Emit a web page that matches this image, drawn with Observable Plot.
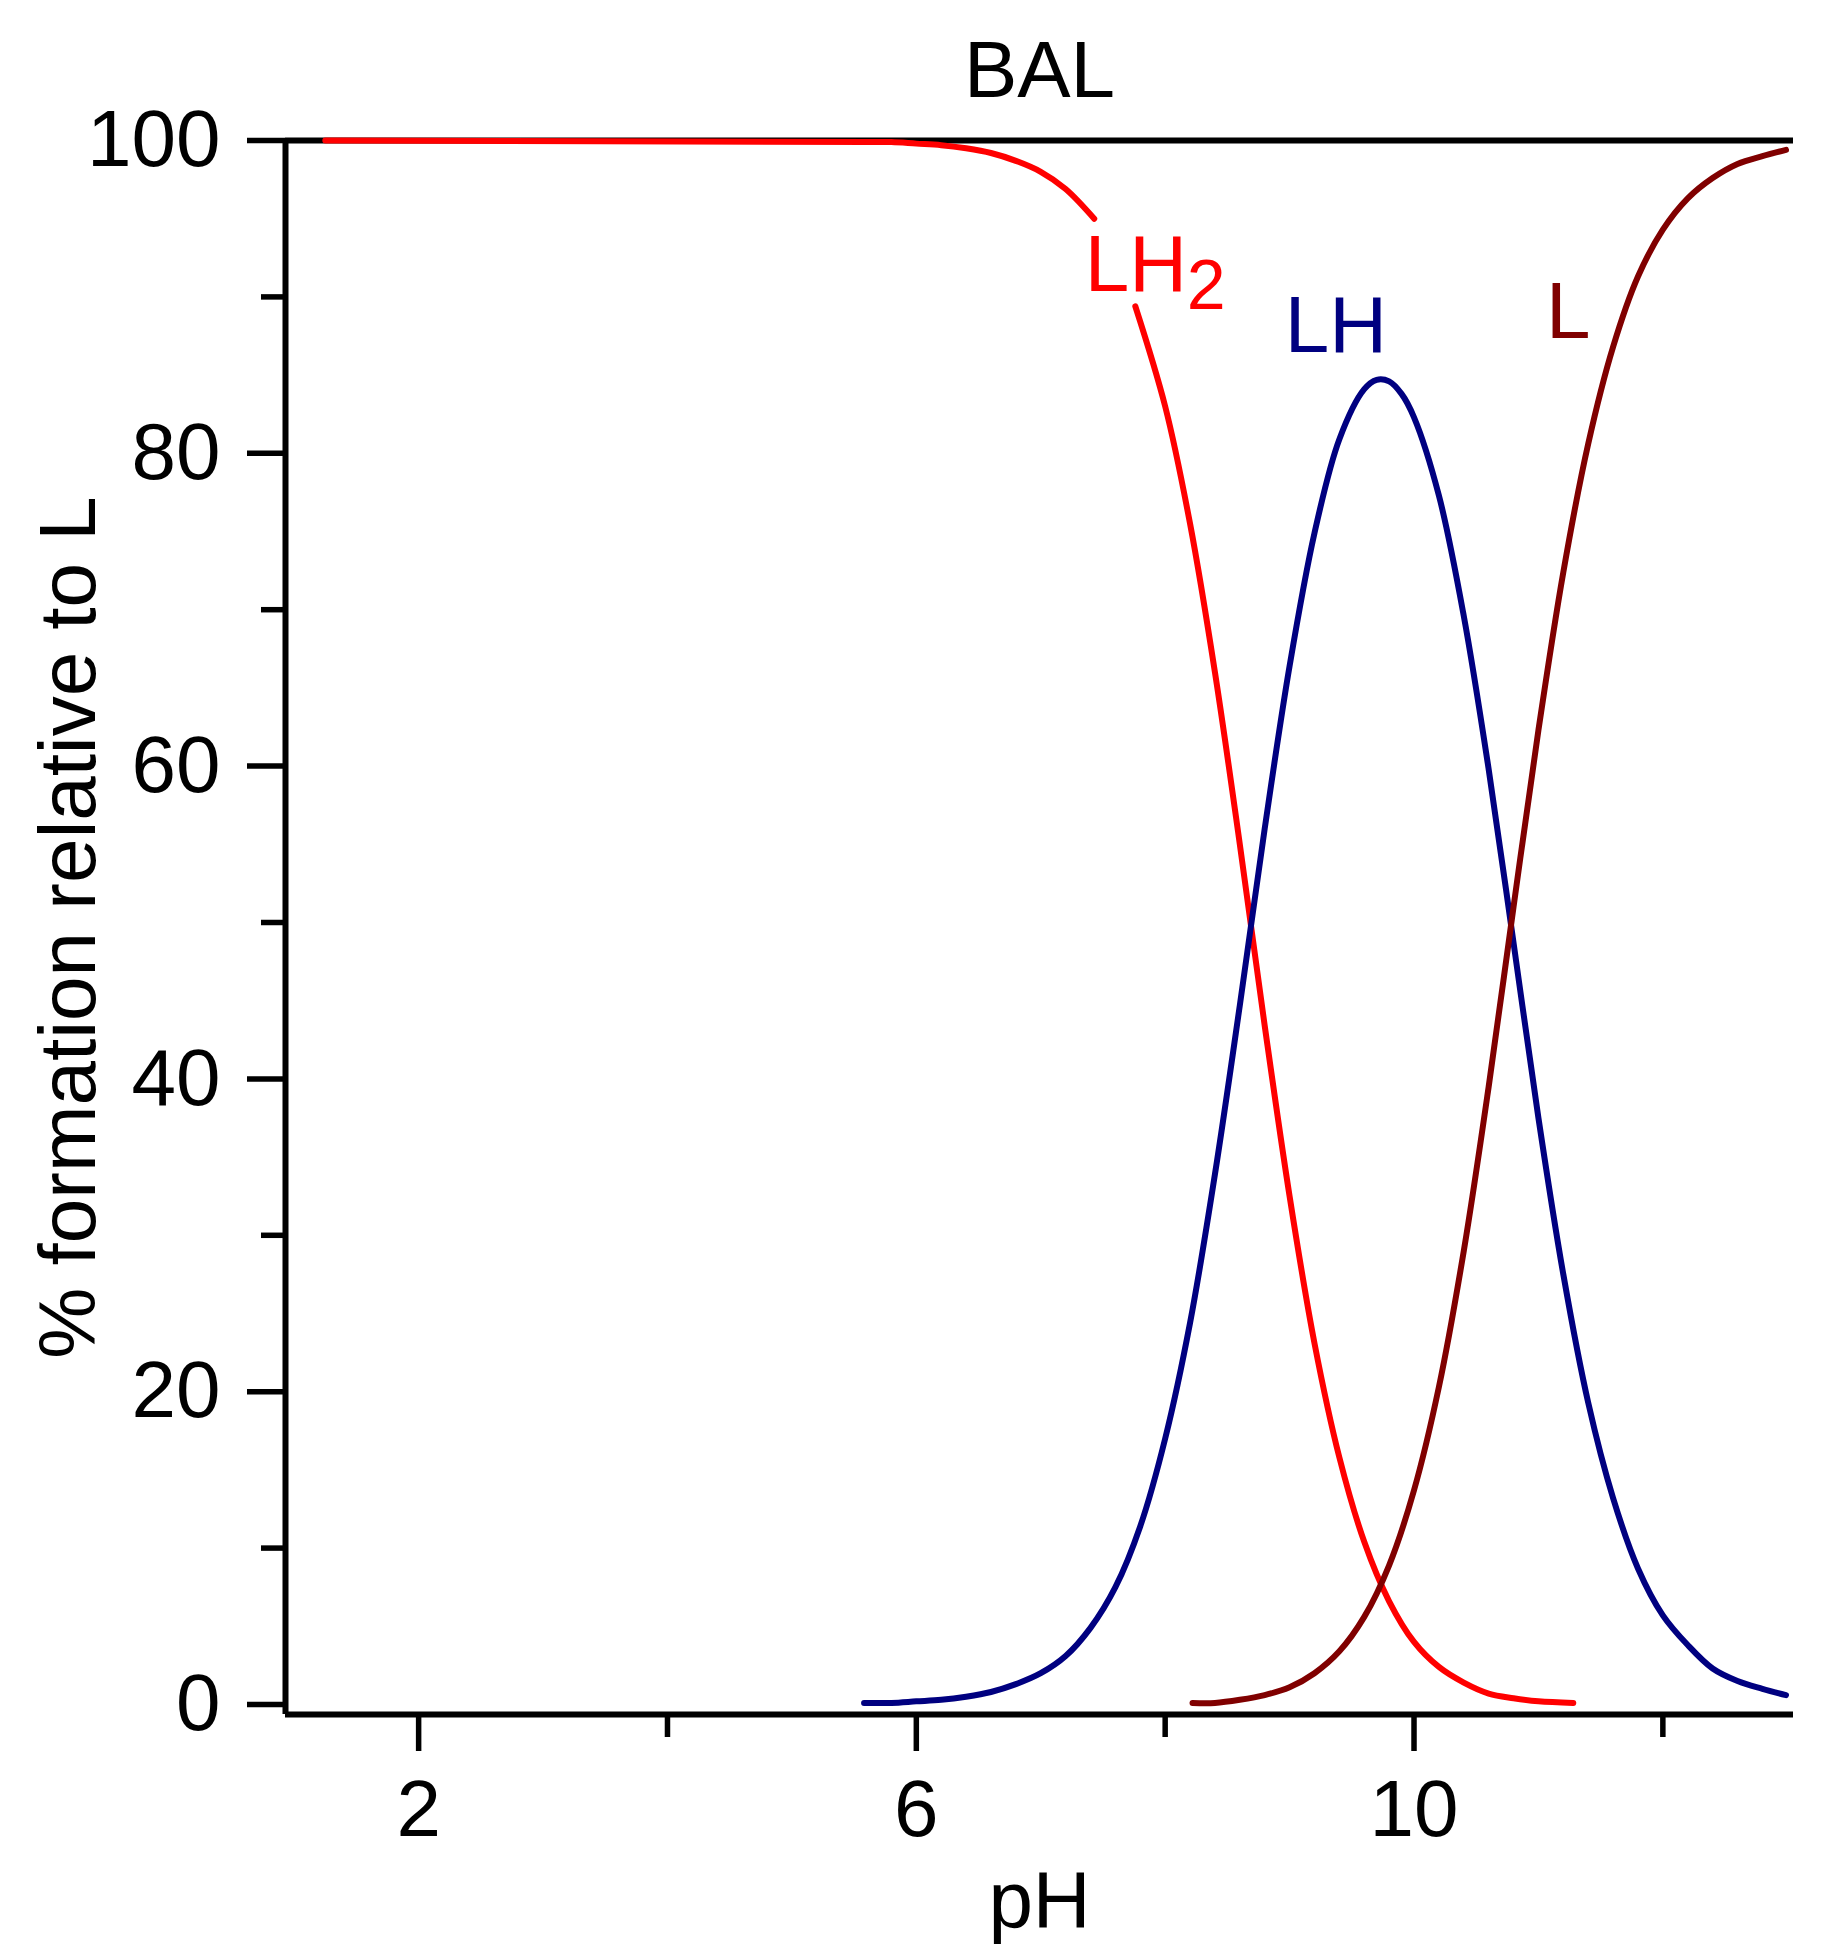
<!DOCTYPE html>
<html>
<head>
<meta charset="utf-8">
<script src="https://cdn.jsdelivr.net/npm/d3@7"></script>
<script src="https://cdn.jsdelivr.net/npm/@observablehq/plot@0.6"></script>
<style>
  html, body { margin: 0; padding: 0; background: #ffffff; overflow: hidden; }
</style>
</head>
<body>
<div id="chart"></div>
<script>
// ---- text ----
const title = "BAL";
const xLabel = "pH";
const yLabel = "% formation relative to L";

// ---- scales / ticks ----
const xDomain = [0.93, 13.05];
const yDomain = [-0.64, 100];
const xMajorTicks = [2, 6, 10];
const xMinorTicks = [4, 8, 12];
const yMajorTicks = [0, 20, 40, 60, 80, 100];
const yMinorTicks = [10, 30, 50, 70, 90];

// ---- series: LH2 (NaN = break where the label sits) ----
const lh2PH  = [1.25, 5.6, 5.8, 6.0, 6.2, 6.4, 6.6, 6.8, 7.0, 7.2, 7.43, 7.6, 7.76, 8.0, 8.2, 8.4, 8.6, 8.8, 9.0, 9.2, 9.4, 9.6, 9.8, 10.0, 10.2, 10.4, 10.6, 10.8, 11.0, 11.28];
const lh2Pct = [100, 99.9, 99.9, 99.8, 99.7, 99.5, 99.2, 98.7, 98.0, 96.9, 95.0, NaN, 89.4, 83.0, 75.5, 66.0, 55.0, 43.4, 32.5, 23.1, 15.8, 10.4, 6.6, 4.0, 2.4, 1.4, 0.7, 0.4, 0.2, 0.1];

// ---- series: LH ----
const lhPH  = [5.58, 5.8, 6.0, 6.2, 6.4, 6.6, 6.8, 7.0, 7.2, 7.4, 7.6, 7.8, 8.0, 8.2, 8.4, 8.6, 8.8, 9.0, 9.2, 9.4, 9.6, 9.7, 9.8, 9.9, 10.0, 10.2, 10.4, 10.6, 10.8, 11.0, 11.2, 11.4, 11.6, 11.8, 12.0, 12.2, 12.4, 12.6, 12.8, 12.99];
const lhPct = [0.1, 0.1, 0.2, 0.3, 0.5, 0.8, 1.3, 2.0, 3.1, 4.9, 7.5, 11.4, 17.0, 24.4, 33.9, 44.7, 56.0, 66.4, 74.9, 80.9, 84.1, 84.7, 84.6, 83.8, 82.3, 77.3, 69.6, 59.8, 48.7, 37.5, 27.5, 19.3, 13.2, 8.7, 5.7, 3.8, 2.3, 1.5, 1.0, 0.6];

// ---- series: L ----
const lPH  = [8.22, 8.4, 8.6, 8.8, 9.0, 9.2, 9.4, 9.6, 9.8, 10.0, 10.2, 10.4, 10.6, 10.8, 11.0, 11.2, 11.4, 11.6, 11.8, 12.0, 12.2, 12.4, 12.6, 12.8, 12.99];
const lPct = [0.1, 0.1, 0.3, 0.6, 1.1, 2.0, 3.4, 5.6, 8.9, 13.7, 20.3, 29.0, 39.5, 51.0, 62.3, 72.4, 80.6, 86.8, 91.3, 94.3, 96.3, 97.6, 98.5, 99.0, 99.4];

// ---- curve labels ----
const labelText = ["LH", "LH", "L"];
const labelSub = ["2", "", ""];
const labelPH = [7.354, 8.961, 11.06];
const labelPct = [90.4, 86.45, 87.4];
const labelColor = ["#ff0000", "#000080", "#800000"];

const toRows = (xs, ys) => xs.map((x, i) => ({pH: x, pct: ys[i]}));
const lh2 = toRows(lh2PH, lh2Pct);
const lh = toRows(lhPH, lhPct);
const lFree = toRows(lPH, lPct);
const labels = labelText.map((t, i) => ({text: t, sub: labelSub[i], pH: labelPH[i], pct: labelPct[i], color: labelColor[i]}));

const FS = 80;
const fmt = d => `${d}`;

const chart = Plot.plot({
  width: 1826,
  height: 1957,
  marginLeft: 285,
  marginRight: 33,
  marginTop: 140,
  marginBottom: 243,
  style: {fontFamily: '"Liberation Sans", Arial, Helvetica, sans-serif', background: "#ffffff", color: "#000000"},
  x: {domain: xDomain},
  y: {domain: yDomain},
  marks: [
    Plot.ruleY([yMajorTicks[yMajorTicks.length - 1]], {stroke: "#000", strokeWidth: 6}),
    Plot.ruleX([xDomain[0]], {stroke: "#000", strokeWidth: 6}),
    Plot.ruleY([yDomain[0]], {stroke: "#000", strokeWidth: 6}),
    Plot.axisY(yMajorTicks, {tickSize: 38, tickPadding: 27, fontSize: FS, strokeWidth: 5.5, tickFormat: fmt, label: null, fill: "#000"}),
    Plot.axisY(yMinorTicks, {tickSize: 24, tickFormat: () => "", strokeWidth: 5.5, label: null}),
    Plot.axisX(xMajorTicks, {tickSize: 37, tickPadding: 28, fontSize: FS, strokeWidth: 5.5, tickFormat: fmt, label: null, fill: "#000"}),
    Plot.axisX(xMinorTicks, {tickSize: 23, tickFormat: () => "", strokeWidth: 5.5, label: null}),
    Plot.line(lh2, {x: "pH", y: "pct", stroke: "#ff0000", strokeWidth: 6, curve: "catmull-rom"}),
    Plot.line(lh, {x: "pH", y: "pct", stroke: "#000080", strokeWidth: 6, curve: "catmull-rom"}),
    Plot.line(lFree, {x: "pH", y: "pct", stroke: "#800000", strokeWidth: 6, curve: "catmull-rom"}),
    Plot.text(labels, {x: "pH", y: "pct", text: "text", fill: d => d.color, fontSize: FS, textAnchor: "start", lineAnchor: "bottom"}),
    Plot.text(labels, {x: "pH", y: "pct", text: "sub", fill: d => d.color, fontSize: 70, textAnchor: "start", lineAnchor: "bottom", dx: 102, dy: 18}),
    Plot.text([title], {text: d => d, frameAnchor: "top", dy: -44, lineAnchor: "bottom", fontSize: FS, fill: "#000"}),
    Plot.text([xLabel], {text: d => d, frameAnchor: "bottom", dy: 212, lineAnchor: "bottom", fontSize: FS, fill: "#000"}),
    Plot.text([yLabel], {text: d => d, frameAnchor: "left", dx: -191, rotate: -90, textAnchor: "middle", lineAnchor: "bottom", fontSize: FS, fill: "#000"})
  ]
});
document.getElementById("chart").appendChild(chart);
</script>
</body>
</html>
